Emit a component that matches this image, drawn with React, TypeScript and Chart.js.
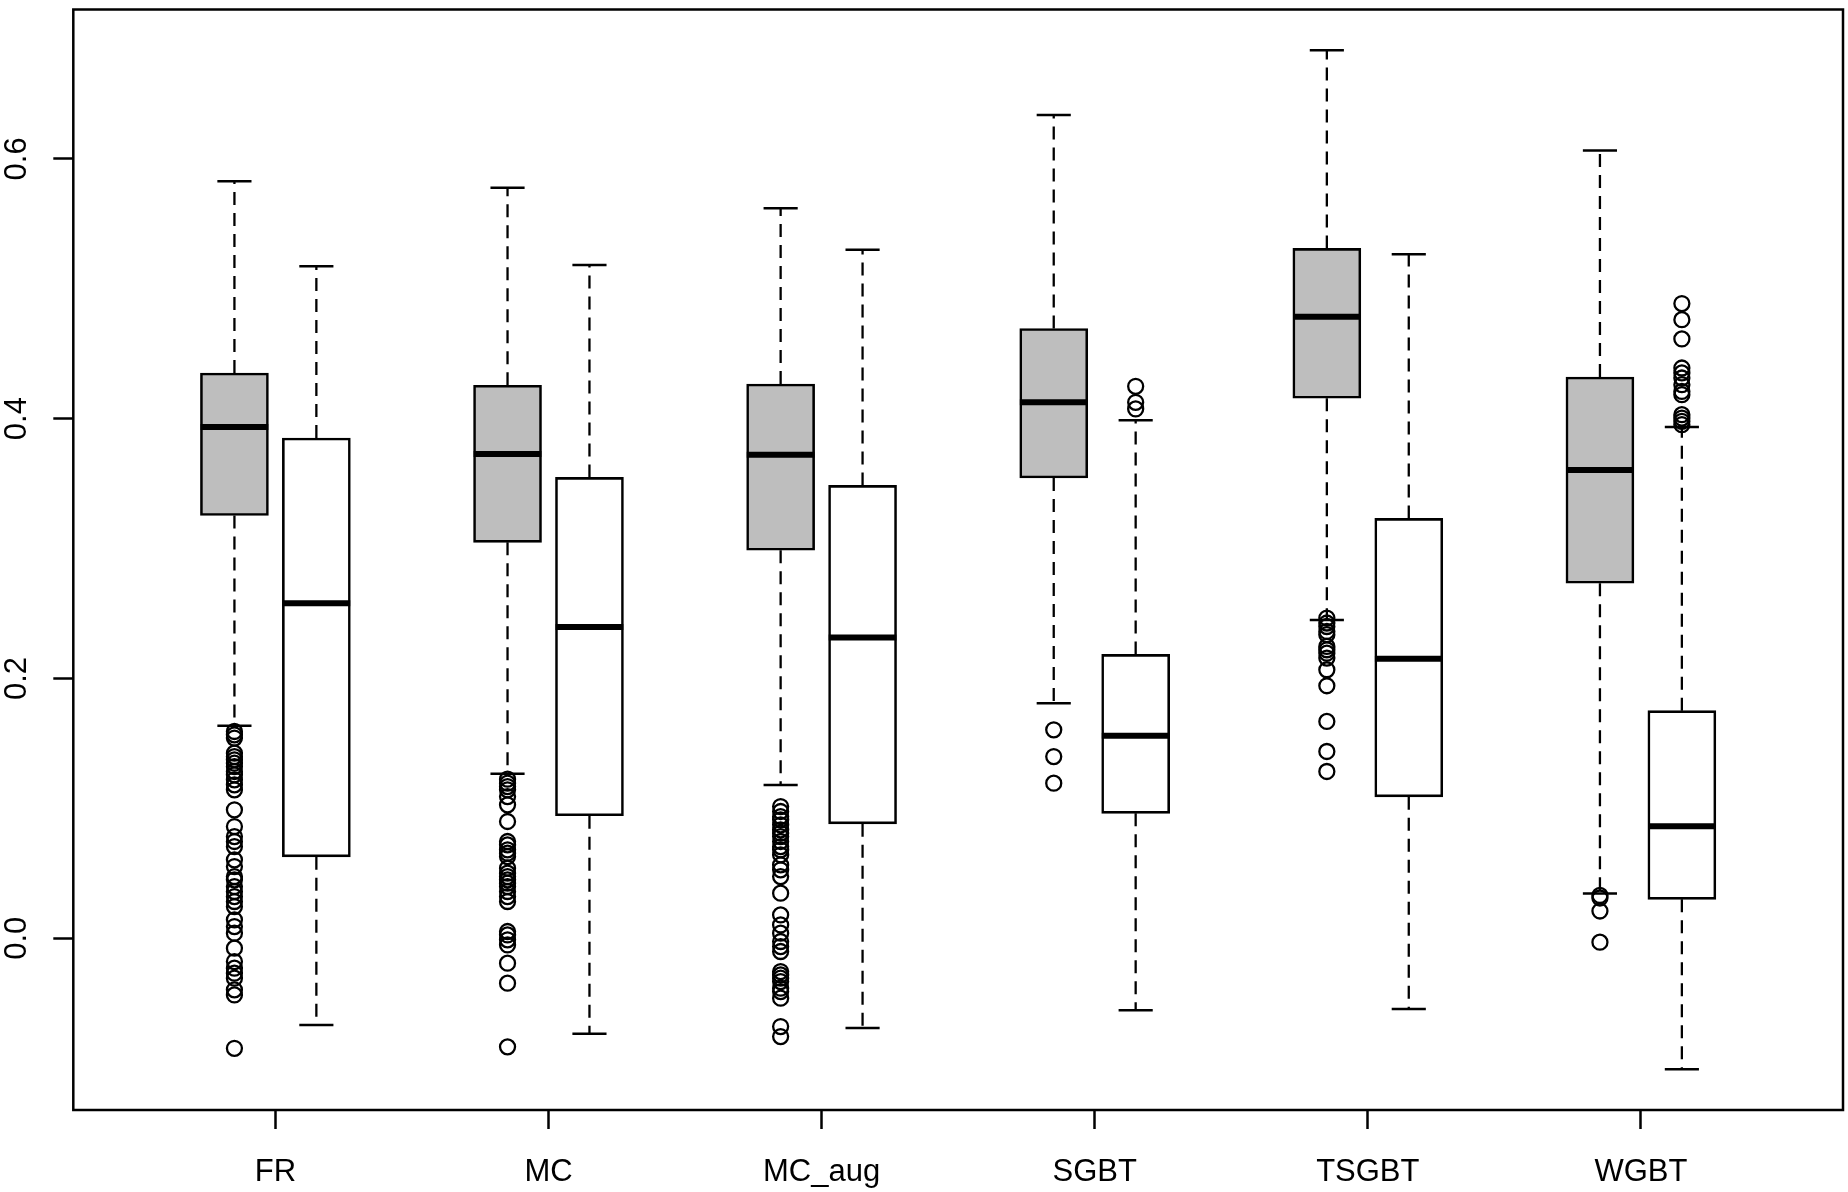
import React, { useEffect, useRef } from 'react';
import Chart from 'chart.js/auto';

const groups = ['FR', 'MC', 'MC_aug', 'SGBT', 'TSGBT', 'WGBT'];
const yTicks = [0, 0.2, 0.4, 0.6];

// grey boxes (left box of each pair)
const greyLower = [0.1636, 0.1266, 0.118, 0.181, 0.245, 0.0345];
const greyQ1 = [0.3255, 0.3048, 0.2987, 0.3543, 0.4158, 0.2733];
const greyMedian = [0.3936, 0.3728, 0.3722, 0.4126, 0.4784, 0.3604];
const greyQ3 = [0.4352, 0.4257, 0.4267, 0.4694, 0.5311, 0.4321];
const greyUpper = [0.5827, 0.5777, 0.562, 0.6337, 0.6836, 0.6064];
const greyOutliers = [
  [0.1592, 0.1566, 0.1541, 0.1425, 0.1399, 0.1374, 0.1348, 0.1322, 0.1284, 0.1258, 0.122, 0.1181,
    0.1143, 0.0989, 0.086, 0.0783, 0.0745, 0.0706, 0.0604, 0.0552, 0.0475, 0.045, 0.0398, 0.036,
    0.0321, 0.0283, 0.0244, 0.0142, 0.009, 0.0039, -0.0076, -0.0179, -0.023, -0.0269, -0.0307,
    -0.0397, -0.0436, -0.0847],
  [0.1225, 0.1194, 0.1168, 0.1143, 0.1091, 0.1027, 0.0899, 0.0745, 0.0719, 0.0681, 0.0655, 0.0629,
    0.054, 0.0501, 0.0475, 0.045, 0.0424, 0.0398, 0.036, 0.0321, 0.0283, 0.0052, 0.0026, -0.0012,
    -0.0051, -0.0192, -0.0346, -0.0836],
  [0.1014, 0.0976, 0.0937, 0.0912, 0.0873, 0.0835, 0.0809, 0.0783, 0.0745, 0.0706, 0.0681, 0.0642,
    0.0565, 0.0527, 0.0475, 0.0347, 0.018, 0.0103, 0.0039, -0.0025, -0.0064, -0.0102, -0.0256,
    -0.0282, -0.0307, -0.0333, -0.0384, -0.041, -0.0461, -0.068, -0.0757],
  [0.1605, 0.1399, 0.1194],
  [0.2465, 0.2427, 0.24, 0.2362, 0.2337, 0.2247, 0.2221, 0.2195, 0.2157, 0.2067, 0.1944, 0.1669,
    0.1438, 0.1284],
  [0.033, 0.031, 0.021, -0.003],
];

// white boxes (right box of each pair)
const whiteLower = [-0.0667, -0.0735, -0.069, -0.0554, -0.0545, -0.1008];
const whiteQ1 = [0.0627, 0.0944, 0.0881, 0.0962, 0.1089, 0.03];
const whiteMedian = [0.258, 0.2397, 0.2315, 0.1559, 0.2152, 0.0862];
const whiteQ3 = [0.3851, 0.3548, 0.3486, 0.2185, 0.3232, 0.1752];
const whiteUpper = [0.5173, 0.5184, 0.53, 0.3987, 0.5266, 0.3936];
const whiteOutliers = [
  [],
  [],
  [],
  [0.4249, 0.4126, 0.4075],
  [],
  [0.4886, 0.4762, 0.4614, 0.439, 0.4352, 0.4313, 0.4262, 0.421, 0.4185, 0.4031, 0.4005, 0.398, 0.3954],
];

const FONT = '"Liberation Sans", Arial, sans-serif';
const pairOffset = 0.15;
const boxHalf = 0.124;
const capHalf = 0.0625;

type Box = { pos: number; lower: number; q1: number; median: number; q3: number; upper: number; out: number[]; fill: string };

const boxes: Box[] = [];
groups.forEach((_, i) => {
  boxes.push({ pos: i + 1 - pairOffset, lower: greyLower[i], q1: greyQ1[i], median: greyMedian[i], q3: greyQ3[i], upper: greyUpper[i], out: greyOutliers[i], fill: '#bebebe' });
  boxes.push({ pos: i + 1 + pairOffset, lower: whiteLower[i], q1: whiteQ1[i], median: whiteMedian[i], q3: whiteQ3[i], upper: whiteUpper[i], out: whiteOutliers[i], fill: '#ffffff' });
});

// box around the plot region
const framePlugin = {
  id: 'frame',
  afterDatasetsDraw(chart: any) {
    const { ctx, chartArea: a } = chart;
    ctx.save();
    ctx.strokeStyle = '#000';
    ctx.lineWidth = 2.5;
    ctx.strokeRect(a.left, a.top, a.right - a.left, a.bottom - a.top);
    ctx.restore();
  },
};

// rotated y tick labels like R's default las=0
const yLabelPlugin = {
  id: 'yLabels',
  afterDraw(chart: any) {
    const { ctx } = chart;
    const y = chart.scales.y;
    ctx.save();
    ctx.fillStyle = '#000';
    ctx.font = `31px ${FONT}`;
    ctx.textAlign = 'center';
    ctx.textBaseline = 'middle';
    yTicks.forEach((v) => {
      ctx.save();
      ctx.translate(17, y.getPixelForValue(v));
      ctx.rotate(-Math.PI / 2);
      ctx.fillText(v.toFixed(1), 0, 0);
      ctx.restore();
    });
    ctx.restore();
  },
};

const App = () => {
  const canvasRef = useRef<HTMLCanvasElement>(null);
  const chartRef = useRef<Chart | null>(null);

  useEffect(() => {
    const ctx = canvasRef.current!.getContext('2d')!;

    const whiskers = boxes.flatMap((b) => [
      { x: b.pos, y: b.q3 }, { x: b.pos, y: b.upper }, { x: b.pos, y: null },
      { x: b.pos, y: b.q1 }, { x: b.pos, y: b.lower }, { x: b.pos, y: null },
    ]);
    const caps = boxes.flatMap((b) => [
      { x: b.pos - capHalf, y: b.upper }, { x: b.pos + capHalf, y: b.upper }, { x: b.pos, y: null },
      { x: b.pos - capHalf, y: b.lower }, { x: b.pos + capHalf, y: b.lower }, { x: b.pos, y: null },
    ]);
    const medians = boxes.flatMap((b) => [
      { x: b.pos - boxHalf, y: b.median }, { x: b.pos + boxHalf, y: b.median }, { x: b.pos, y: null },
    ]);
    const outliers = boxes.flatMap((b) => b.out.map((v) => ({ x: b.pos, y: v })));

    chartRef.current = new Chart(ctx, {
      type: 'bar',
      data: {
        datasets: [
          {
            type: 'bar',
            data: boxes.map((b) => ({ x: b.pos, y: [b.q1, b.q3] })) as any,
            backgroundColor: boxes.map((b) => b.fill),
            borderColor: '#000',
            borderWidth: 2.6,
            borderSkipped: false,
            barThickness: 68,
            order: 3,
          },
          {
            type: 'line',
            data: whiskers as any,
            borderColor: '#000',
            borderWidth: 2.3,
            borderDash: [13, 8],
            pointRadius: 0,
            spanGaps: false,
            order: 5,
          },
          {
            type: 'line',
            data: caps as any,
            borderColor: '#000',
            borderWidth: 2.5,
            pointRadius: 0,
            spanGaps: false,
            order: 4,
          },
          {
            type: 'line',
            data: medians as any,
            borderColor: '#000',
            borderWidth: 6,
            pointRadius: 0,
            spanGaps: false,
            order: 2,
          },
          {
            type: 'scatter',
            data: outliers as any,
            pointRadius: 7.5,
            pointBorderWidth: 2.3,
            pointBorderColor: '#000',
            pointBackgroundColor: 'rgba(0,0,0,0)',
            order: 1,
          },
        ] as any,
      },
      options: {
        animation: false,
        responsive: false,
        events: [],
        layout: { autoPadding: false, padding: { top: 9.5, right: 5, left: 0, bottom: 0 } },
        plugins: { legend: { display: false }, tooltip: { enabled: false } },
        scales: {
          x: {
            type: 'linear',
            min: 0.26,
            max: 6.74,
            offset: false,
            afterBuildTicks: (scale: any) => {
              scale.ticks = groups.map((_, i) => ({ value: i + 1 }));
            },
            afterFit: (scale: any) => {
              scale.height = 82;
              scale.paddingLeft = 0;
              scale.paddingRight = 0;
            },
            ticks: {
              autoSkip: false,
              maxRotation: 0,
              minRotation: 0,
              padding: 24.5,
              color: '#000',
              font: { family: FONT, size: 31 },
              callback: (value: any) => groups[Number(value) - 1],
            },
            grid: {
              offset: false,
              drawOnChartArea: false,
              tickLength: 19,
              tickWidth: 2.5,
              tickColor: '#000',
            },
            border: { display: false },
          },
          y: {
            type: 'linear',
            min: -0.1322,
            max: 0.715,
            afterBuildTicks: (scale: any) => {
              scale.ticks = yTicks.map((v) => ({ value: v }));
            },
            afterFit: (scale: any) => {
              scale.width = 73.3;
              scale.paddingTop = 0;
              scale.paddingBottom = 0;
            },
            ticks: { display: false },
            grid: {
              drawOnChartArea: false,
              tickLength: 20,
              tickWidth: 2.5,
              tickColor: '#000',
            },
            border: { display: false },
          },
        },
      } as any,
      plugins: [framePlugin, yLabelPlugin],
    });

    return () => {
      if (chartRef.current) {
        chartRef.current.destroy();
      }
    };
  }, []);

  return (
    <div style={{ position: 'fixed', left: 0, top: 0, width: 1848, height: 1192, background: '#fff' }}>
      <canvas ref={canvasRef} width={1848} height={1192} style={{ display: 'block', width: 1848, height: 1192 }} />
    </div>
  );
};

export default App;
